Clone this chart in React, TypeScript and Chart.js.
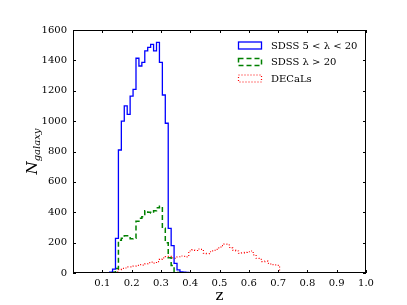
import React, { useEffect, useRef } from "react";
import { Chart, registerables } from "chart.js";

Chart.register(...registerables);

// ---- data ----
const binWidth = 0.01;

const blueStart = 0.115;
const blueCounts = [
  3, 5, 26, 228, 810, 1000, 1100, 1045, 1165, 1209, 1414, 1363, 1387, 1462,
  1486, 1506, 1462, 1519, 1387, 1172, 986, 294, 180, 64, 20, 8, 5, 4, 3, 3, 2,
  2, 2, 1, 1, 1,
];

const greenStart = 0.135;
const greenCounts = [
  5, 30, 215, 228, 245, 245, 225, 228, 340, 360, 370, 410, 400, 395, 410, 430,
  440, 295, 200, 100, 50, 10, 3,
];

const redStart = 0.145;
const redCounts = [
  8, 22, 30, 33, 40, 40, 45, 50, 55, 52, 60, 68, 72, 65, 75, 92, 100, 108, 110,
  100, 97, 107, 112, 110, 106, 145, 152, 148, 158, 155, 130, 128, 140, 146, 156,
  165, 180, 190, 185, 165, 150, 145, 130, 133, 136, 140, 145, 120, 97, 90, 75,
  78, 64, 55, 53, 50, 3, 3, 2, 2, 2, 1,
];

const seriesLabels = ["SDSS 5 < λ < 20", "SDSS λ > 20", "DECaLs"];
const xTicks = [0.1, 0.2, 0.3, 0.4, 0.5, 0.6, 0.7, 0.8, 0.9, 1.0];
const xMin = 0;
const xMax = 1.0;
const yMin = 0;
const yMax = 1600;
const yStep = 200;
const xTitle = "z";
const yTitleMain = "N";
const yTitleSub = "galaxy";

const FONT = "'DejaVu Serif', 'Liberation Serif', serif";

function histPoints(start: number, counts: number[]) {
  const pts: { x: number; y: number }[] = [{ x: start, y: 0 }];
  counts.forEach((c, i) => pts.push({ x: start + i * binWidth, y: c }));
  pts.push({ x: start + counts.length * binWidth, y: 0 });
  return pts;
}

const styles = [
  { color: "#0000ff", width: 1.3, dash: [] as number[] },
  { color: "#008000", width: 1.5, dash: [5, 3] },
  { color: "#ff0000", width: 1.2, dash: [1, 2] },
];

const decorPlugin = {
  id: "decor",
  afterDraw(chart: any) {
    const { ctx, chartArea } = chart;
    const { left, right, top, bottom } = chartArea;
    const xs = chart.scales.x;
    const ys = chart.scales.y;
    ctx.save();
    // frame
    ctx.strokeStyle = "#000";
    ctx.lineWidth = 1;
    ctx.setLineDash([]);
    ctx.strokeRect(left + 0.5, top + 0.5, right - left - 1, bottom - top - 1);
    // ticks (inward)
    const tl = 3;
    ctx.beginPath();
    xTicks.forEach((v) => {
      const px = Math.round(xs.getPixelForValue(v)) + 0.5;
      ctx.moveTo(px, bottom);
      ctx.lineTo(px, bottom - tl);
      ctx.moveTo(px, top);
      ctx.lineTo(px, top + tl);
    });
    for (let v = yMin; v <= yMax; v += yStep) {
      const py = Math.round(ys.getPixelForValue(v)) + 0.5;
      ctx.moveTo(left, py);
      ctx.lineTo(left + tl, py);
      ctx.moveTo(right, py);
      ctx.lineTo(right - tl, py);
    }
    ctx.stroke();

    // legend
    const rowsY = [45.5, 62, 78.5];
    const boxX = 238.5;
    const boxW = 23;
    const boxH = 7;
    ctx.font = `10px ${FONT}`;
    ctx.textBaseline = "middle";
    ctx.textAlign = "left";
    seriesLabels.forEach((lab, i) => {
      const st = styles[i];
      ctx.strokeStyle = st.color;
      ctx.lineWidth = st.width;
      ctx.setLineDash(st.dash);
      ctx.strokeRect(boxX, rowsY[i] - boxH / 2, boxW, boxH);
      ctx.setLineDash([]);
      ctx.fillStyle = "#000";
      ctx.fillText(lab, 271, rowsY[i] + 0.5);
    });

    // x title
    ctx.fillStyle = "#000";
    ctx.font = `15px ${FONT}`;
    ctx.textAlign = "center";
    ctx.textBaseline = "alphabetic";
    ctx.fillText(xTitle, (left + right) / 2, 300);

    // y title
    ctx.font = `italic 15px ${FONT}`;
    const wN = ctx.measureText(yTitleMain).width;
    ctx.font = `italic 10px ${FONT}`;
    const wS = ctx.measureText(yTitleSub).width;
    const total = wN + wS;
    ctx.translate(37, (top + bottom) / 2 + total / 2);
    ctx.rotate(-Math.PI / 2);
    ctx.textAlign = "left";
    ctx.font = `italic 15px ${FONT}`;
    ctx.fillText(yTitleMain, 0, 0);
    ctx.font = `italic 10px ${FONT}`;
    ctx.fillText(yTitleSub, wN, 3);
    ctx.restore();
  },
};

export default function App() {
  const ref = useRef<HTMLCanvasElement | null>(null);
  useEffect(() => {
    if (!ref.current) return;
    const datasets = [
      histPoints(blueStart, blueCounts),
      histPoints(greenStart, greenCounts),
      histPoints(redStart, redCounts),
    ].map((data, i) => ({
      label: seriesLabels[i],
      data,
      borderColor: styles[i].color,
      backgroundColor: "transparent",
      borderWidth: styles[i].width,
      borderDash: styles[i].dash,
      stepped: true as any,
      pointRadius: 0,
      fill: false,
      tension: 0,
    }));
    const chart = new Chart(ref.current, {
      type: "line",
      data: { datasets },
      options: {
        responsive: false,
        animation: false,
        layout: { padding: { top: 30, right: 41, left: 0, bottom: 0 } },
        plugins: {
          legend: { display: false },
          tooltip: { enabled: false },
        },
        scales: {
          x: {
            type: "linear",
            min: xMin,
            max: xMax,
            grid: { display: false, drawTicks: false },
            border: { display: false },
            afterBuildTicks: (s: any) => {
              s.ticks = xTicks.map((v) => ({ value: v }));
            },
            afterFit: (s: any) => {
              s.height = 32;
            },
            ticks: {
              padding: 4,
              color: "#000",
              maxRotation: 0,
              autoSkip: false,
              font: { family: FONT, size: 10 },
              callback: (v: any) => Number(v).toFixed(1),
            },
          },
          y: {
            type: "linear",
            min: yMin,
            max: yMax,
            grid: { display: false, drawTicks: false },
            border: { display: false },
            afterFit: (s: any) => {
              s.width = 73;
            },
            ticks: {
              stepSize: yStep,
              padding: 6,
              color: "#000",
              font: { family: FONT, size: 10 },
              callback: (v: any) => String(v),
            },
          },
        },
      },
      plugins: [decorPlugin],
    });
    return () => chart.destroy();
  }, []);
  return (
    <div
      style={{
        position: "fixed",
        left: 0,
        top: 0,
        width: 407,
        height: 305,
        background: "#fff",
      }}
    >
      <canvas ref={ref} width={407} height={305} />
    </div>
  );
}
